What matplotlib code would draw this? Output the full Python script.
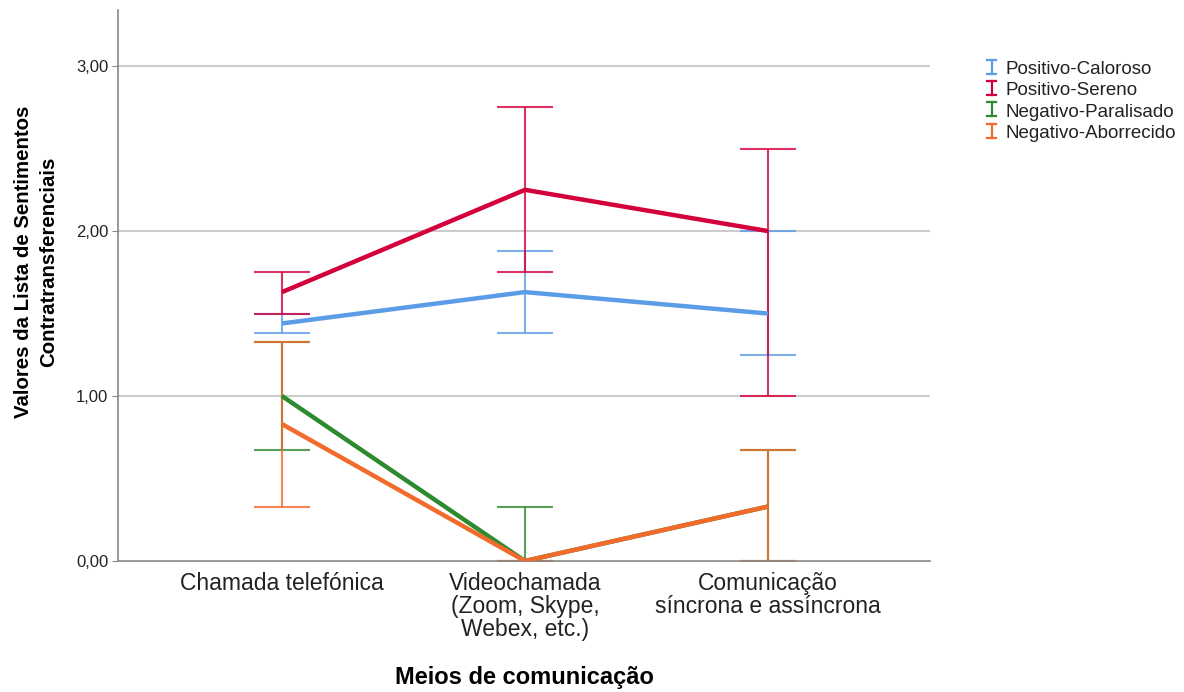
import matplotlib
matplotlib.use("Agg")
import matplotlib.pyplot as plt
from matplotlib.lines import Line2D
from matplotlib.legend_handler import HandlerBase

plt.rcParams['font.family'] = ['Liberation Sans', 'DejaVu Sans']

categories = ["Chamada telefónica", "Videochamada\n(Zoom, Skype,\nWebex, etc.)",
              "Comunicação\nsíncrona e assíncrona"]
series_names = ["Positivo-Caloroso", "Positivo-Sereno", "Negativo-Paralisado", "Negativo-Aborrecido"]
colors = ["#5B9CE6", "#D4003C", "#2E8A2E", "#F26B2B"]

caloroso_mean = [1.44, 1.63, 1.50]
caloroso_low = [1.38, 1.38, 1.25]
caloroso_high = [1.50, 1.88, 2.00]

sereno_mean = [1.63, 2.25, 2.00]
sereno_low = [1.50, 1.75, 1.00]
sereno_high = [1.75, 2.75, 2.50]

paralisado_mean = [1.00, 0.00, 0.33]
paralisado_low = [0.67, 0.00, 0.00]
paralisado_high = [1.33, 0.33, 0.67]

aborrecido_mean = [0.83, 0.00, 0.33]
aborrecido_low = [0.33, 0.00, 0.00]
aborrecido_high = [1.33, 0.00, 0.67]

yticks = [0, 1, 2, 3]
ytick_labels = ["0,00", "1,00", "2,00", "3,00"]

series = [
    (caloroso_mean, caloroso_low, caloroso_high),
    (sereno_mean, sereno_low, sereno_high),
    (paralisado_mean, paralisado_low, paralisado_high),
    (aborrecido_mean, aborrecido_low, aborrecido_high),
]

fig = plt.figure(figsize=(11.84, 6.92), dpi=100)
ax = fig.add_axes([118/1184, 1 - 561/692, (930-118)/1184, (561-10)/692])

x = list(range(len(categories)))
for (m, lo, hi), c in zip(series, colors):
    yerr = [[mi - l for mi, l in zip(m, lo)], [h - mi for mi, h in zip(m, hi)]]
    ax.errorbar(x, m, yerr=yerr, fmt='none', ecolor=c, elinewidth=1.5,
                capsize=20, capthick=1.5, alpha=0.8, zorder=2)
for (m, lo, hi), c in zip(series, colors):
    ax.plot(x, m, color=c, lw=3.2, zorder=3, solid_capstyle='butt')

ax.set_xlim(-0.675, 2.667)
ax.set_ylim(0, 3.34)
ax.set_yticks(yticks)
ax.set_yticklabels(ytick_labels, fontsize=12, color='#222222')
ax.set_xticks(x)
ax.set_xticklabels(categories, fontsize=16.5, linespacing=1.0, color='#222222')
ax.tick_params(axis='x', length=0, pad=8)
ax.tick_params(axis='y', length=4, color='#888888', pad=3)
for yv in yticks[1:]:
    ax.axhline(yv, color='#cccccc', lw=1.5, zorder=1)
for s in ['top', 'right']:
    ax.spines[s].set_visible(False)
for s in ['left', 'bottom']:
    ax.spines[s].set_color('#888888')
    ax.spines[s].set_linewidth(1.2)

ax.set_xlabel("Meios de comunicação", fontsize=17, fontweight='bold', labelpad=18)
ax.set_ylabel("Valores da Lista de Sentimentos\nContratransferenciais", fontsize=14.7,
              fontweight='bold', linespacing=1.4)
ax.yaxis.set_label_coords((58 - 118) / 812, (561 - 262) / 551)


class IHandler(HandlerBase):
    def create_artists(self, legend, orig_handle, xdescent, ydescent, width, height, fontsize, trans):
        c = orig_handle.get_color()
        cx = width / 2 - xdescent
        h = height * 1.05
        y0 = -ydescent + (height - h) / 2 + 0.5
        w = 3.0
        arts = [
            Line2D([cx, cx], [y0, y0 + h], color=c, lw=1.6, transform=trans),
            Line2D([cx - w, cx + w], [y0, y0], color=c, lw=1.6, transform=trans),
            Line2D([cx - w, cx + w], [y0 + h, y0 + h], color=c, lw=1.6, transform=trans),
        ]
        return arts


handles = [Line2D([], [], color=c) for c in colors]
leg = fig.legend(handles, series_names, handler_map={Line2D: IHandler()},
                 loc='upper left', bbox_to_anchor=(986/1184, 1 - 61/692),
                 frameon=False, fontsize=13.5, handlelength=0.6, handletextpad=0.45,
                 labelspacing=0.22, borderaxespad=0, borderpad=0)
for t in leg.get_texts():
    t.set_color('#222222')

fig.savefig("out.png", dpi=100)
